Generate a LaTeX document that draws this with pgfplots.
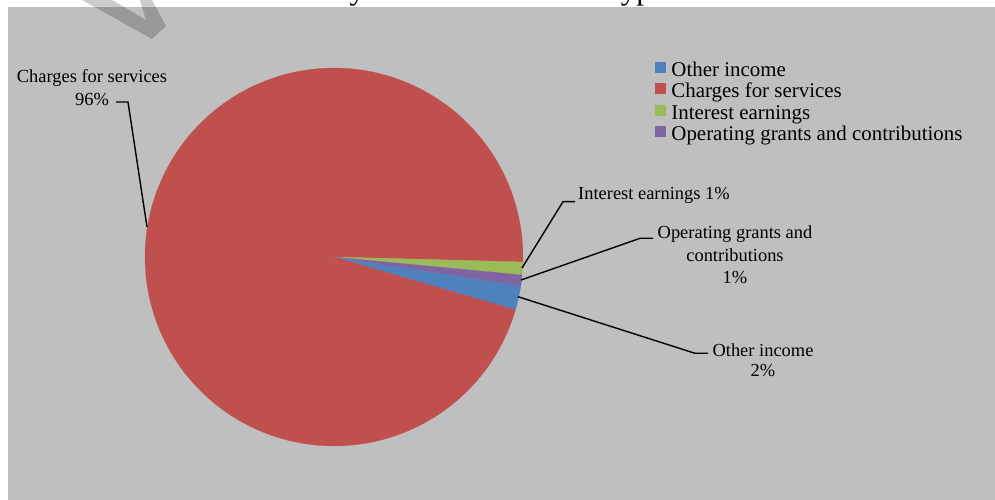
\documentclass[border=0pt]{standalone}
\usepackage{pgfplots}
\pgfplotsset{compat=1.18}
\usepackage{fontspec}
\setmainfont{Liberation Serif}
\definecolor{bggray}{RGB}{191,191,191}
\definecolor{pieblue}{RGB}{79,129,189}
\definecolor{piered}{RGB}{192,80,77}
\definecolor{piegreen}{RGB}{155,187,89}
\definecolor{piepurple}{RGB}{128,100,162}
% slice values (percent), in legend order
\def\vOther{2.1}
\def\vCharges{95.9}
\def\vInterest{1.1}
\def\vOper{0.9}
\def\aStart{-8.7}
\def\cx{334}
\def\cy{243}
\def\rr{189}
\begin{document}
\begin{tikzpicture}
\useasboundingbox (0,0) rectangle (995bp,500bp);
% title (mostly above the visible page, as in the reference)
\node[anchor=base, inner sep=0pt, font=\fontsize{31.3}{34}\selectfont] at (500bp,500.5bp) {Revenues by Source -- Business-type Activities};
\fill[bggray] (8bp,0) rectangle (995bp,493bp);
% watermark fragment
\fill[black, opacity=0.2, even odd rule] (82bp,500bp) -- (152bp,461bp) -- (166bp,474bp) -- (152bp,500bp) -- cycle
  (112bp,500bp) -- (146bp,480bp) -- (140bp,500bp) -- cycle;
\pgfmathsetmacro{\aA}{\aStart}
\pgfmathsetmacro{\aB}{\aA-3.6*\vOther}
\pgfmathsetmacro{\aC}{\aB-3.6*\vCharges}
\pgfmathsetmacro{\aD}{\aC-3.6*\vInterest}
\pgfmathsetmacro{\aE}{\aD-3.6*\vOper}
\begin{axis}[at={(0,0)}, anchor=south west, x=1bp, y=1bp,
  xmin=0, xmax=995, ymin=0, ymax=500, hide axis, clip=false,
  legend cell align=left,
  legend style={at={(axis cs:655,439)}, anchor=north west, draw=none, fill=none,
    font=\fontsize{21}{22}\selectfont, inner sep=0pt, row sep=0pt,
    nodes={inner sep=0bp, text height=15bp, text depth=6.5bp},
    /tikz/every odd column/.append style={column sep=6bp}},
  legend image code/.code={\fill[#1] (0bp,0bp) rectangle (10bp,10bp);},
]
\addplot[fill=pieblue, draw=pieblue, line width=0.2bp, domain=\aB:\aA, samples=20, variable=\t]
  ({\cx+\rr*cos(\t)}, {\cy+\rr*sin(\t)}) -- (axis cs:\cx,\cy) -- cycle;
\addlegendentry{Other income}
\addplot[fill=piered, draw=piered, line width=0.2bp, domain=\aC:\aB, samples=240, variable=\t]
  ({\cx+\rr*cos(\t)}, {\cy+\rr*sin(\t)}) -- (axis cs:\cx,\cy) -- cycle;
\addlegendentry{Charges for services}
\addplot[fill=piegreen, draw=piegreen, line width=0.2bp, domain=\aD:\aC, samples=10, variable=\t]
  ({\cx+\rr*cos(\t)}, {\cy+\rr*sin(\t)}) -- (axis cs:\cx,\cy) -- cycle;
\addlegendentry{Interest earnings}
\addplot[fill=piepurple, draw=piepurple, line width=0.2bp, domain=\aE:\aD, samples=10, variable=\t]
  ({\cx+\rr*cos(\t)}, {\cy+\rr*sin(\t)}) -- (axis cs:\cx,\cy) -- cycle;
\addlegendentry{Operating grants and contributions}
\end{axis}
% leader lines and labels
\begin{scope}[line width=1.4bp, black]
\draw (116bp,398bp) -- (128bp,398bp) -- (147bp,273bp);
\draw (575bp,298.3bp) -- (563bp,298.3bp) -- (522bp,232bp);
\draw (653bp,261.7bp) -- (640bp,261.7bp) -- (521bp,220bp);
\draw (708bp,146.7bp) -- (695bp,146.7bp) -- (518bp,203.3bp);
\end{scope}
\begin{scope}[every node/.style={font=\fontsize{18.5}{22.5}\selectfont, inner sep=0pt}]
\node[align=center] at (92bp,412.5bp) {Charges for services\\96\%};
\node[anchor=west] at (578bp,305bp) {Interest earnings 1\%};
\node[align=center] at (735bp,245bp) {Operating grants and\\contributions\\1\%};
\node[align=center, font=\fontsize{18.5}{20.5}\selectfont] at (763bp,140bp) {Other income\\2\%};
\end{scope}
\end{tikzpicture}
\end{document}
